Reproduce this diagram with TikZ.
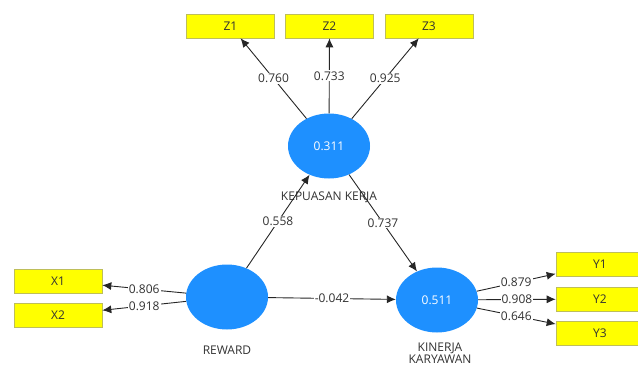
\documentclass[tikz,border=0pt]{standalone}
\usepackage{fontspec}
\setmainfont{Open Sans}
\usetikzlibrary{arrows.meta,shapes.geometric}
\definecolor{lvblue}{RGB}{30,144,255}
\definecolor{indyel}{RGB}{255,255,0}
\definecolor{indbrd}{RGB}{190,190,90}
\definecolor{txtgray}{RGB}{50,50,50}
\tikzset{
  lv/.style={ellipse,fill=lvblue,draw=none,minimum width=82pt,minimum height=65pt,inner sep=0pt,text=white,font=\fontsize{12}{14}\selectfont},
  ind/.style={rectangle,fill=indyel,draw=indbrd,line width=0.6pt,minimum width=88pt,minimum height=24pt,inner sep=0pt,text=txtgray,font=\fontsize{12}{14}\selectfont},
  lvlabel/.style={text=txtgray,font=\fontsize{12}{12}\selectfont,align=center,inner sep=0pt},
  conn/.style={draw=black!85,line width=0.9pt,-{Latex[length=9pt,width=8pt]}},
  wt/.style={fill=white,text=txtgray,font=\fontsize{12}{14}\selectfont,inner sep=1pt,pos=0.5}
}
\begin{document}
\begin{tikzpicture}[x=1pt,y=-1pt]
\useasboundingbox (0,0) rectangle (638,367);
% latent variables
\node[lv] (kep) at (329,146) {0.311};
\node[lv] (rew) at (227,297) {};
\node[lv] (kin) at (437,300) {0.511};
% labels
\node[lvlabel] (kepl) at (329,197) {KEPUASAN KERJA};
\node[lvlabel] (rewl) at (227,350) {REWARD};
\node[lvlabel,anchor=north] (kinl) at (440,343) {KINERJA\\KARYAWAN};
% indicators
\node[ind] (z1) at (230.5,26) {Z1};
\node[ind] (z2) at (329.5,26) {Z2};
\node[ind] (z3) at (429,26) {Z3};
\node[ind] (x1) at (58,281) {X1};
\node[ind] (x2) at (58,315) {X2};
\node[ind] (y1) at (600,264) {Y1};
\node[ind] (y2) at (600,299) {Y2};
\node[ind] (y3) at (600,333) {Y3};
% outer loadings
\draw[conn] (kep) -- node[wt] {0.760} (z1);
\draw[conn] (kep) -- node[wt] {0.733} (z2);
\draw[conn] (kep) -- node[wt] {0.925} (z3);
\draw[conn] (rew) -- node[wt] {0.806} (x1);
\draw[conn] (rew) -- node[wt] {0.918} (x2);
\draw[conn] (kin) -- node[wt] {0.879} (y1);
\draw[conn] (kin) -- node[wt] {0.908} (y2);
\draw[conn] (kin) -- node[wt] {0.646} (y3);
% paths
\draw[conn] (rew) -- node[wt] {0.558} (kep);
\draw[conn] (kep) -- node[wt] {0.737} (kin);
\draw[conn] (rew) -- node[wt] {-0.042} (kin);
\end{tikzpicture}
\end{document}
